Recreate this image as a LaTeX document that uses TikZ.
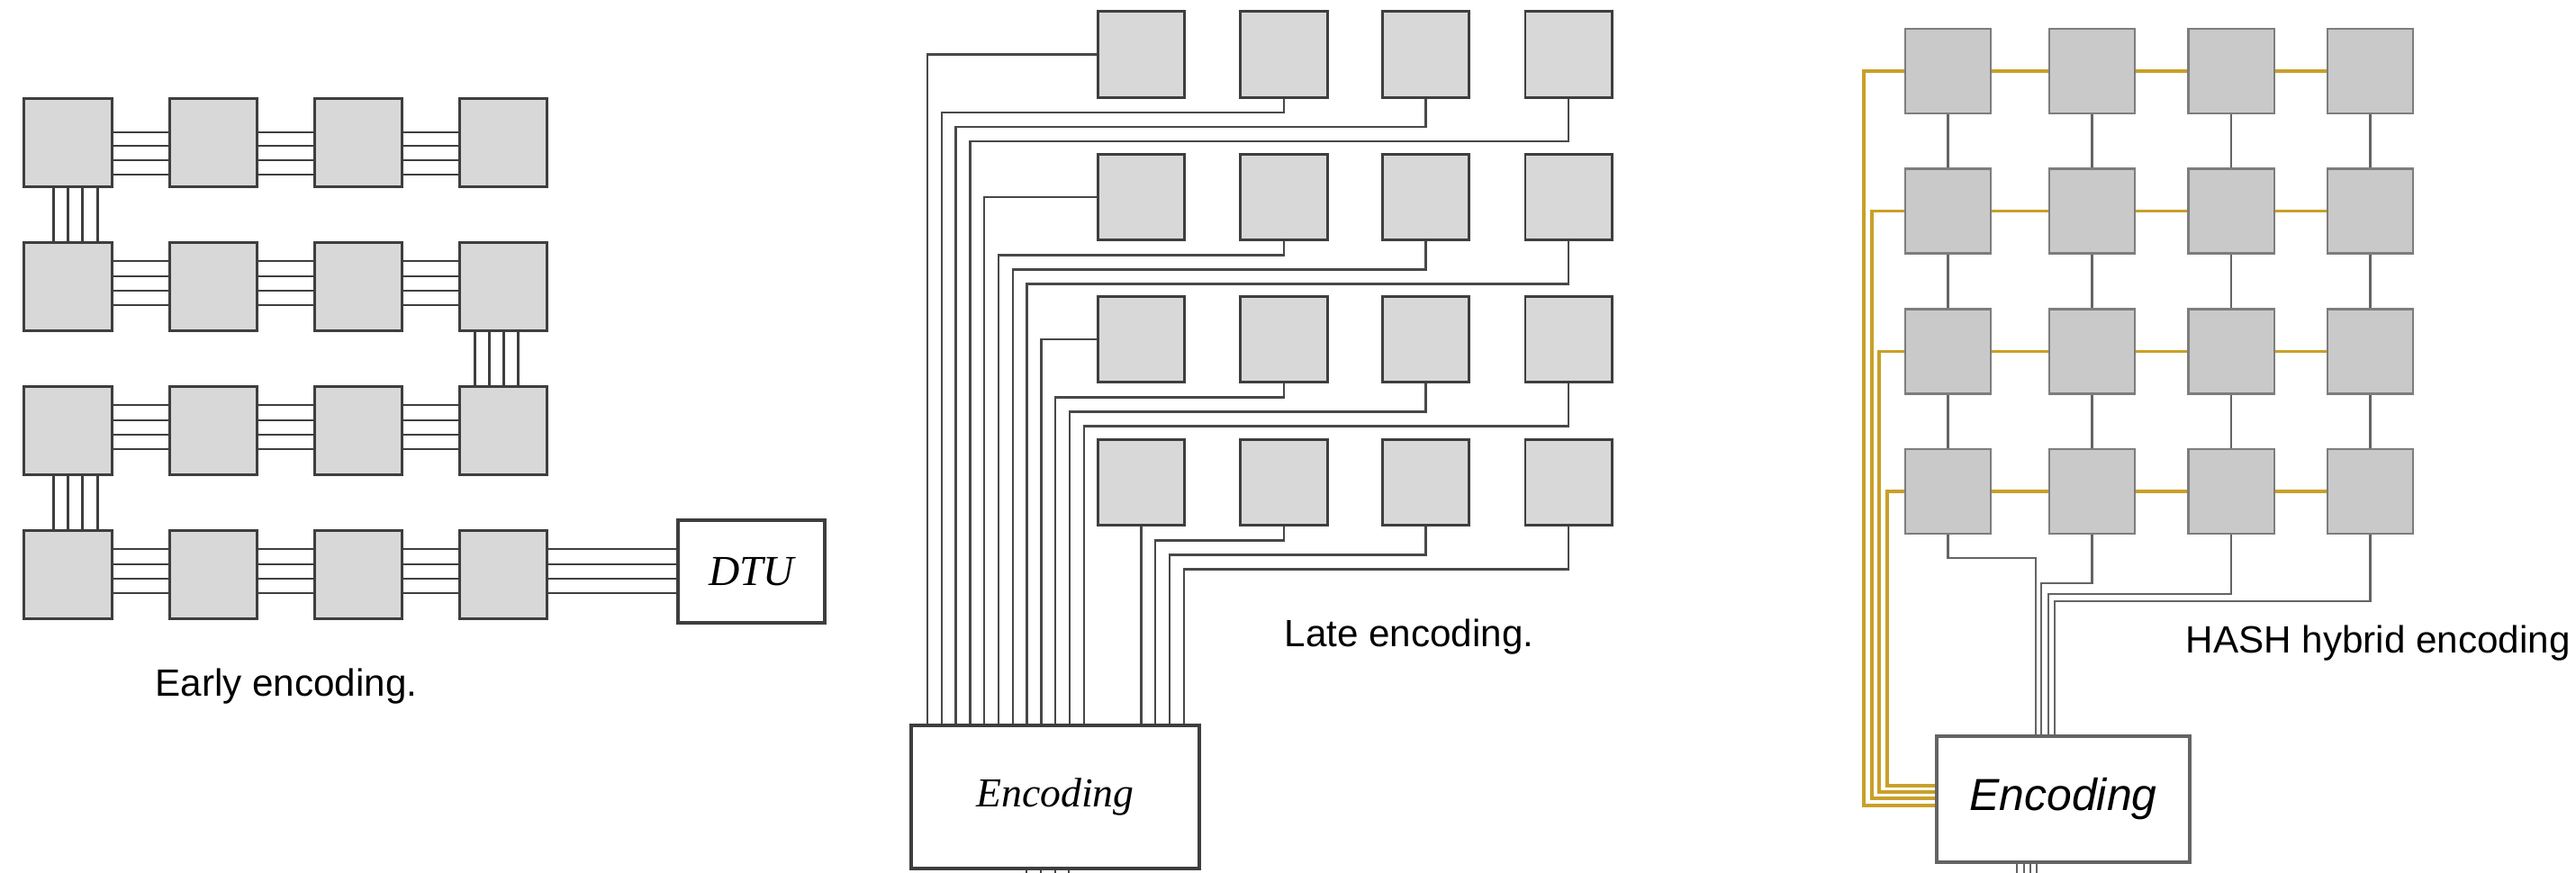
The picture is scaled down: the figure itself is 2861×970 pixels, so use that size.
\documentclass[tikz,border=0pt]{standalone}
\usepackage{fontspec}
\setmainfont{Liberation Sans}
\newfontfamily\serifit{Liberation Serif}
\usepackage{tikz}
\usetikzlibrary{calc}
\definecolor{chipfill}{RGB}{216,216,216}
\definecolor{chipdraw}{RGB}{62,62,62}
\definecolor{hashfill}{RGB}{201,201,201}
\definecolor{hashdraw}{RGB}{125,125,125}
\definecolor{wiregray}{RGB}{72,72,72}
\definecolor{hashwire}{RGB}{100,100,100}
\definecolor{goldline}{RGB}{201,160,40}

\begin{document}
\begin{tikzpicture}[x=0.01cm, y=-0.01cm,
  every node/.style={inner sep=0pt},
  chip/.style={draw=chipdraw, fill=chipfill, line width=0.85pt,
               minimum width=0.97cm, minimum height=0.97cm},
  hchip/.style={draw=hashdraw, fill=hashfill, line width=0.6pt,
                minimum width=0.95cm, minimum height=0.94cm},
  unit/.style={draw=chipdraw, fill=white, line width=0.95pt},
  bus/.style={draw=chipdraw, line width=0.7pt},
  wire/.style={draw=wiregray, line width=0.65pt},
  hwire/.style={draw=hashwire, line width=0.7pt},
  goldbus/.style={draw=goldline, line width=1.05pt},
  caption/.style={font=\fontsize{12}{14}\selectfont},
]
\useasboundingbox (0,0) rectangle (2861,970);

% early encoding
\foreach \r/\y in {1/158.5,2/318.5,3/478.5,4/638.5}
  \foreach \c/\x in {1/75.5,2/236.8,3/398.1,4/559.4}
    \node[chip] (e\r\c) at (\x,\y) {};
\node[unit, line width=1.2pt, minimum width=1.63cm, minimum height=1.14cm] (dtu) at (834.5,635)
  {\serifit\itshape\fontsize{13.5}{14}\selectfont DTU};
\foreach \c/\d in {1/2,2/3,3/4}
  \foreach \o in {-11.5,3.5,19.5,35.5}
    \draw[bus] ($(e1\c.east)+(0,\o)$) -- ($(e1\d.west)+(0,\o)$);
\foreach \r in {2,3,4}
  \foreach \c/\d in {1/2,2/3,3/4}
    \foreach \o in {-28.5,-11.5,4.5,20.5}
      \draw[bus] ($(e\r\c.east)+(0,\o)$) -- ($(e\r\d.west)+(0,\o)$);
\foreach \o in {-28.5,-11.5,4.5,20.5}
  \draw[bus] ($(e44.east)+(0,\o)$) -- ($(dtu.west)+(0,\o+3.5)$);
\foreach \a/\b in {11/21,31/41}
  \foreach \o in {-16,0,16,33}
    \draw[bus] ($(e\a.south)+(\o,0)$) -- ($(e\b.north)+(\o,0)$);
\foreach \o in {-32,-16,0,16}
  \draw[bus] ($(e24.south)+(\o,0)$) -- ($(e34.north)+(\o,0)$);
\node[caption, anchor=base] (capE) at (318,773) {Early encoding.};

% late encoding
\foreach \r/\y in {1/60.5,2/219,3/377,4/536}
  \foreach \c/\x in {1/1267.5,2/1426,3/1583.5,4/1742}
    \node[chip, minimum width=0.96cm, minimum height=0.95cm] (l\r\c) at (\x,\y) {};
\node[unit, minimum width=3.2cm, minimum height=1.59cm] (encL) at (1172,885.5)
  {\serifit\itshape\fontsize{13}{14}\selectfont Encoding};
\foreach \r in {1,2,3}
  \foreach \c in {1,...,4} {
    \pgfmathsetmacro\wx{1030+15.8*(4*(\r-1)+\c-1)}
    \pgfmathsetmacro\dy{15.5+16*(\c-2)}
    \ifnum\c=1
      \draw[wire] (l\r1.west) -| (encL.north -| \wx,0);
    \else
      \draw[wire] (l\r\c.south) -- ++(0,\dy) -| (encL.north -| \wx,0);
    \fi
  }
\draw[wire] (l41.south) -- (encL.north -| l41.south);
\foreach \c in {2,3,4} {
  \pgfmathsetmacro\wx{1267+16*(\c-1)}
  \pgfmathsetmacro\dy{15.5+16*(\c-2)}
  \draw[wire] (l4\c.south) -- ++(0,\dy) -| (encL.north -| \wx,0);
}
\foreach \x in {1140,1156,1172,1187}
  \draw[wire] (encL.south -| \x,0) -- ++(0,12);
\node[caption, anchor=base] (capL) at (1565,718) {Late encoding.};

% HASH hybrid encoding
\foreach \r/\y in {1/79,2/234.5,3/390.5,4/546}
  \foreach \c/\x in {1/2163.5,2/2323.5,3/2478,4/2632.5}
    \node[hchip] (h\r\c) at (\x,\y) {};
\node[unit, draw=hashwire, minimum width=2.81cm, minimum height=1.40cm] (encR) at (2291.5,888)
  {\itshape\fontsize{14.2}{16}\selectfont Encoding};
\foreach \r/\s in {1/2,2/3,3/4}
  \foreach \c in {1,...,4}
    \draw[hwire] (h\r\c) -- (h\s\c);
\foreach \r in {1,...,4}
  \foreach \c/\d in {1/2,2/3,3/4}
    \draw[goldbus] (h\r\c) -- (h\r\d);
\foreach \r/\gx/\gy in {1/2070/895,2/2079/887,3/2087/880,4/2096/873}
  \draw[goldbus] (h\r1.west) -| (\gx,\gy) -- (encR.west |- \gx,\gy);
\foreach \c/\dy/\wx in {1/26/2261,2/54/2267,3/66/2275,4/74/2282}
  \draw[hwire] (h4\c.south) -- ++(0,\dy) -| (encR.north -| \wx,0);
\foreach \x in {2240,2248,2255,2262}
  \draw[hwire] (encR.south -| \x,0) -- ++(0,12);
\node[caption, anchor=base west] (capH) at (2427,725) {HASH hybrid encoding};
\end{tikzpicture}
\end{document}
